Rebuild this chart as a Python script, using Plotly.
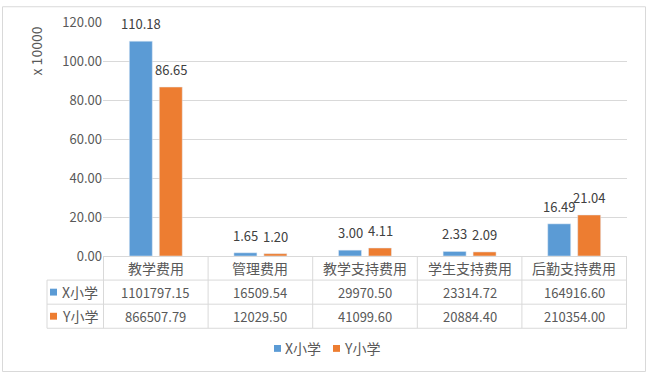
import plotly.graph_objects as go

categories = ["教学费用", "管理费用", "教学支持费用", "学生支持费用", "后勤支持费用"]
series_names = ["X小学", "Y小学"]
x_values = [1101797.15, 16509.54, 29970.50, 23314.72, 164916.60]
y_values = [866507.79, 12029.50, 41099.60, 20884.40, 210354.00]
scale = 10000
colors = ["#5B9BD5", "#ED7D31"]

W, H = 651, 378
ML, MR, MT, MB = 103, 24, 18, 122
PW, PH = W - ML - MR, H - MT - MB
FONT = "Noto Sans CJK SC"
GRID = "#D9D9D9"
TXT = "#595959"


def px(xp):
    return (xp - ML) / PW


def py(yp):
    return (H - MB - yp) / PH


fig = go.Figure()
shapes = []
annotations = []
slot_px = 30
for k, (name, vals, col) in enumerate(zip(series_names, [x_values, y_values], colors)):
    scaled = [v / scale for v in vals]
    fig.add_trace(go.Bar(
        x=categories, y=scaled, name=name, marker_color=col,
        showlegend=False,
    ))
    for c, s in zip(categories, scaled):
        annotations.append(dict(x=c, y=s, xref="x", yref="y", text=f"{s:.2f}",
                                showarrow=False, yanchor="bottom", yshift=6,
                                xshift=(k - 0.5) * slot_px,
                                font=dict(family=FONT, size=13, color="#404040")))

line = dict(color=GRID, width=1)

# outer chart border
shapes.append(dict(type="rect", xref="paper", yref="paper",
                   x0=px(2.5), x1=px(645.5), y0=py(373.5), y1=py(2.5), line=line))

# data table
row_h = 24.5
y_top = H - MB
y_rows = [y_top, y_top + row_h, y_top + 2 * row_h, y_top + 3 * row_h]
table_left = px(47)
n = len(categories)
for b in range(n + 1):
    shapes.append(dict(type="line", xref="x", yref="paper", x0=b - 0.5, x1=b - 0.5,
                       y0=py(y_rows[0]), y1=py(y_rows[3]), line=line))
shapes.append(dict(type="line", xref="paper", yref="paper", x0=table_left, x1=table_left,
                   y0=py(y_rows[1]), y1=py(y_rows[3]), line=line))
for yr in y_rows[1:]:
    shapes.append(dict(type="line", xref="paper", yref="paper", x0=table_left, x1=1,
                       y0=py(yr), y1=py(yr), line=line))

for i, c in enumerate(categories):
    annotations.append(dict(x=i, y=py((y_rows[0] + y_rows[1]) / 2), xref="x", yref="paper",
                            text=c, showarrow=False, yanchor="middle",
                            font=dict(family=FONT, size=14, color=TXT)))
for r, (name, vals, col) in enumerate(zip(series_names, [x_values, y_values], colors)):
    yc = (y_rows[r + 1] + y_rows[r + 2]) / 2
    for i, v in enumerate(vals):
        annotations.append(dict(x=i, y=py(yc), xref="x", yref="paper",
                                text=f"{v:.2f}", showarrow=False, yanchor="middle",
                                font=dict(family=FONT, size=13, color=TXT)))
    shapes.append(dict(type="rect", xref="paper", yref="paper", line=dict(width=0),
                       fillcolor=col, x0=px(50), x1=px(57), y0=py(yc + 3.5), y1=py(yc - 3.5)))
    annotations.append(dict(x=px(60), y=py(yc), xref="paper", yref="paper", xanchor="left",
                            yanchor="middle", text=name, showarrow=False,
                            font=dict(family=FONT, size=14, color=TXT)))

# legend
leg_y = 350
leg_items = [(274, series_names[0], colors[0]), (333, series_names[1], colors[1])]
for lx, name, col in leg_items:
    shapes.append(dict(type="rect", xref="paper", yref="paper", line=dict(width=0),
                       fillcolor=col, x0=px(lx), x1=px(lx + 7), y0=py(leg_y + 3.5), y1=py(leg_y - 3.5)))
    annotations.append(dict(x=px(lx + 9), y=py(leg_y), xref="paper", yref="paper", xanchor="left",
                            yanchor="middle", text=name, showarrow=False,
                            font=dict(family=FONT, size=14, color=TXT)))

# y-axis unit title
annotations.append(dict(x=px(36), y=py(48), xref="paper", yref="paper", text="x 10000",
                        textangle=-90, showarrow=False, xanchor="center", yanchor="middle",
                        font=dict(family=FONT, size=14, color=TXT)))

fig.update_layout(
    width=W, height=H,
    margin=dict(l=ML, r=MR, t=MT, b=MB),
    paper_bgcolor="white", plot_bgcolor="white",
    barmode="group", bargap=0.427, bargroupgap=0.233,
    font=dict(family=FONT, color=TXT),
    shapes=shapes, annotations=annotations,
    xaxis=dict(showticklabels=False, showgrid=False, showline=True, linecolor=GRID,
               ticks="", zeroline=False),
    yaxis=dict(range=[0, 120], dtick=20, tickformat=".2f", showgrid=True, gridcolor=GRID,
               showline=False, zeroline=False, ticks="",
               tickfont=dict(family=FONT, size=13, color=TXT)),
)

fig.write_html("out.html", config={"displayModeBar": False},
               post_script="document.body.style.margin='0';")
